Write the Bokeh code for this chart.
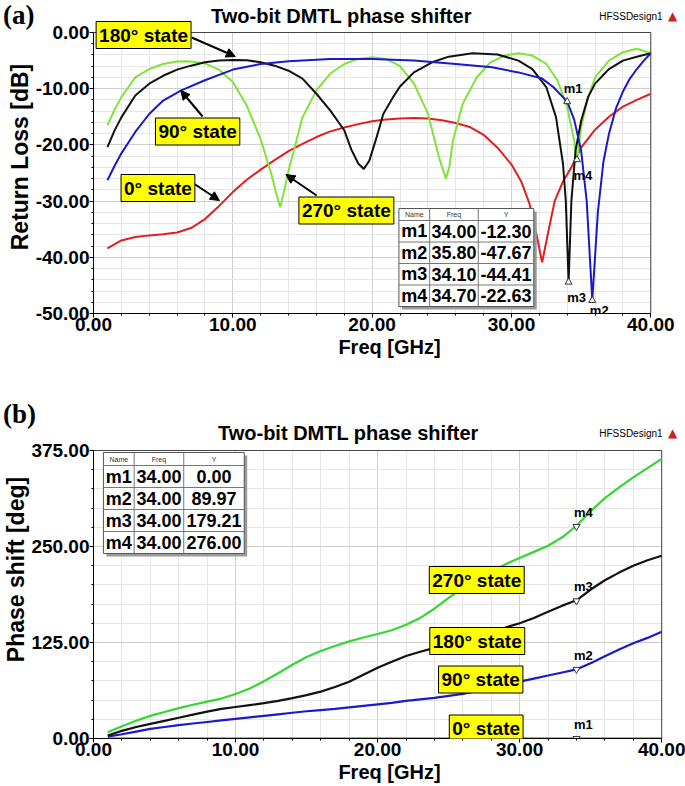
from math import pi
from bokeh.plotting import figure
from bokeh.layouts import column
from bokeh.models import (Label, Arrow, NormalHead, SingleIntervalTicker,
                          PrintfTickFormatter, Title, Div, Grid)
from bokeh.core.properties import value
from bokeh.embed import file_html
from bokeh.resources import INLINE

SANS = "Liberation Sans"
SERIF = "Liberation Serif"

# ---------------- (a) Return loss [dB] ----------------
rl_freq_0 = [1, 2, 3, 4, 5, 6, 7, 8, 9, 10, 11, 12, 13, 14, 15, 16, 17, 18, 19, 20,
             21, 22, 23, 24, 25, 26, 27, 28, 29, 30, 30.7, 31.3, 31.8, 32.2, 32.6, 33.1,
             33.7, 34.3, 35, 36, 37, 38, 39, 40]
rl_0 = [-38.4, -37.0, -36.4, -36.1, -35.9, -35.6, -34.8, -33.2, -30.9, -28.4,
        -26.2, -24.4, -22.7, -21.1, -19.8, -18.6, -17.6, -16.9, -16.3, -15.8,
        -15.5, -15.3, -15.2, -15.3, -15.6, -16.1, -16.8, -18.2, -20.5, -23.5,
        -26.5, -30.5, -36.0, -40.9, -36.0, -30.0, -26.5, -24.0, -20.5, -17.3,
        -15.0, -13.2, -12.0, -10.9]

rl_freq_90 = [1, 1.5, 2, 3, 4, 5, 6.3, 8, 10, 12, 14, 17, 20, 23, 26, 28.6, 30.5, 32.2,
              33, 34, 34.5, 35, 35.4, 35.8, 36.2, 36.6, 37, 37.5, 38, 38.5, 39, 39.5, 40]
rl_90 = [-26.3, -23.8, -21.5, -17.7, -14.5, -12.1, -10.3, -8.5, -6.6, -5.6,
         -5.1, -4.7, -4.7, -5.0, -5.6, -6.2, -7.1, -8.2, -9.7, -12.3,
         -15.5, -21.0, -30.0, -47.67, -32.0, -23.0, -18.0, -13.5, -10.5, -8.2,
         -6.5, -5.0, -3.7]

rl_freq_180 = [1, 1.5, 2, 3, 4, 5, 6, 7, 8, 9, 10, 11, 12, 13, 14, 15, 16, 17, 18, 18.5,
               19, 19.4, 19.8, 20.3, 20.8, 21.5, 22, 23, 24.3, 25.5, 27.2, 29, 30.5, 31.5,
               32.5, 33.2, 33.7, 33.9, 34.1, 34.3, 34.6, 35, 35.5, 36, 37, 38, 39, 40]
rl_180 = [-20.4, -17.5, -15.1, -11.2, -9.1, -7.7, -6.6, -5.9, -5.3, -5.0,
          -4.9, -4.95, -5.3, -5.9, -6.8, -8.2, -10.9, -13.9, -17.4, -20.8,
          -23.3, -24.3, -22.8, -18.8, -14.5, -11.5, -9.6, -7.1, -5.3, -4.3,
          -3.7, -3.9, -5.0, -6.5, -9.7, -15.1, -23.4, -30.0, -44.41, -30.0,
          -21.0, -15.7, -11.5, -9.1, -6.5, -5.0, -4.3, -3.7]

rl_freq_270 = [1, 1.5, 2, 3, 4, 5, 6, 6.5, 7, 8, 9, 10, 11, 12, 12.8, 13.1, 13.4, 13.7, 14, 15,
               16, 17, 18, 19, 20, 21, 22, 23, 24, 24.8, 25.05, 25.3, 25.55, 25.8, 26.5, 27.5,
               28.5, 29.5, 30.5, 31.5, 32.5, 33.3, 34, 34.5, 34.7, 35, 35.5, 36, 37, 38, 39, 40]
rl_270 = [-16.5, -13.8, -11.5, -8.0, -6.5, -5.6, -5.15, -5.1, -5.15, -5.5,
          -6.6, -8.8, -13.0, -19.0, -25.5, -28.5, -31.1, -28.0, -24.6, -15.1,
          -10.3, -7.3, -5.6, -4.7, -4.4, -4.7, -6.0, -9.1, -14.4, -22.2,
          -24.2, -26.0, -23.8, -19.2, -12.7, -8.0, -5.3, -4.1, -3.7, -4.1,
          -5.6, -8.5, -13.3, -19.2, -23.0, -16.8, -11.5, -8.0, -5.0, -3.5,
          -2.9, -3.7]

mk_a_names = ["m1", "m2", "m3", "m4"]
mk_a_freq = [34.00, 35.80, 34.10, 34.70]
mk_a_val = [-12.30, -47.67, -44.41, -22.63]

# ---------------- (b) Phase shift [deg] ----------------
ps_freq = [1, 2, 3, 4, 5, 6, 7, 8, 9, 10, 11, 12, 13, 14, 15, 16, 17, 18, 19, 20,
           21, 22, 23, 24, 25, 26, 27, 28, 29, 30, 31, 32, 33, 34, 35, 36, 37, 38, 39, 40]
ps_270 = [8, 16, 23, 29.5, 34.5, 39.5, 44, 48, 52, 58,
          65, 74.5, 85, 96, 106, 114, 120.5, 126.5, 131.5, 136,
          141, 148, 157, 169, 183, 196, 207, 217, 227, 235,
          243, 251, 262, 277, 296, 313, 327, 340, 352, 364]
ps_180 = [4, 10, 15, 19, 23, 27, 31, 35, 38.5, 41,
          43.5, 46, 49, 52.5, 56.5, 61, 67, 74, 83, 92,
          100, 107.5, 113, 118, 123, 128, 134, 139.5, 144.5, 150,
          157, 165, 173, 180, 194, 206, 216, 225, 232, 238]
ps_90 = [2.5, 5.5, 9, 12.5, 15, 17.5, 19.5, 21.5, 23.5, 25.5,
         27.5, 29.5, 31.5, 33.5, 35.5, 37, 38.5, 40.5, 42.5, 44.5,
         46.5, 49, 51, 53, 55.5, 58, 62, 66, 70, 74,
         78, 82, 86, 90, 98, 107, 116, 124, 131, 139]
ps_freq_0 = [1, 40]
ps_0 = [0.0, 0.0]

mk_b_names = ["m1", "m2", "m3", "m4"]
mk_b_freq = [34.00, 34.00, 34.00, 34.00]
mk_b_val = [0.00, 89.97, 179.21, 276.00]

table_header = ["Name", "Freq", "Y"]
TITLE = "Two-bit DMTL phase shifter"


class Frame:
    """Maps page pixels to data coordinates for a figure frame."""
    def __init__(s, left, top, w, h, xr, yr):
        s.left, s.top, s.w, s.h, s.xr, s.yr = left, top, w, h, xr, yr

    def X(s, px):
        return s.xr[0] + (px - s.left) / s.w * (s.xr[1] - s.xr[0])

    def Y(s, py):
        return s.yr[1] - (py - s.top) / s.h * (s.yr[1] - s.yr[0])

    def px(s, x):
        return s.left + (x - s.xr[0]) / (s.xr[1] - s.xr[0]) * s.w

    def py(s, y):
        return s.top + (s.yr[1] - y) / (s.yr[1] - s.yr[0]) * s.h


W = 685
H1, H2 = 400, 386
# plot box (a): x 88..650 px for 0..40 GHz, y 32..313 px for 0..-50 dB
FA = Frame(88, 0, 597, 313, (0, 597 / 14.05), (-50, 32 / 5.62))
# plot box (b): x 88..661 px for 0..40 GHz, y 450..738 px for 375..0 deg
FB = Frame(88, 400, 597, 338, (0, 597 / 14.325), (0, 375 + 50 / 0.768))


def make_fig(F, height, page_top, yint, ybounds, ylab, ylab_off, xlab_off):
    p = figure(width=W, height=height, x_range=F.xr, y_range=F.yr,
               output_backend="svg", toolbar_location=None,
               min_border_left=F.left, min_border_top=F.top - page_top,
               min_border_right=W - F.left - F.w,
               min_border_bottom=height - (F.top - page_top) - F.h)
    p.xaxis.ticker = SingleIntervalTicker(interval=10, num_minor_ticks=5)
    p.yaxis.ticker = SingleIntervalTicker(interval=yint, num_minor_ticks=5)
    p.xaxis.bounds = (0, 40)
    p.yaxis.bounds = ybounds
    for ax in [p.xaxis, p.yaxis]:
        ax.formatter = PrintfTickFormatter(format="%.2f")
        ax.major_label_text_font = SANS
        ax.major_label_text_font_style = "bold"
        ax.major_label_text_font_size = "19px"
        ax.major_label_text_color = "black"
        ax.axis_line_color = "black"
        ax.major_tick_line_color = "black"
        ax.minor_tick_line_color = "black"
        ax.major_tick_in = 0
        ax.major_tick_out = 4
        ax.minor_tick_in = 0
        ax.minor_tick_out = 2
        ax.major_label_standoff = 0
    p.grid.grid_line_color = "#cfcfcf"
    p.grid.minor_grid_line_color = "#e6e6e6"
    if "cross_bounds" in Grid.properties():
        p.xgrid.cross_bounds = ybounds
        p.ygrid.cross_bounds = (0, 40)
    p.outline_line_color = None
    p.background_fill_color = "white"
    # blank the area of the frame outside the plot box
    p.quad(left=[0, 40], right=[F.xr[1], F.xr[1]], bottom=[ybounds[1], ybounds[0]],
           top=[F.yr[1], ybounds[1]], fill_color="white", line_color=None)
    p.line([0, 40, 40], [ybounds[1], ybounds[1], ybounds[0]], line_color="#444444", line_width=1)
    p.add_layout(Title(text=ylab, align="center", offset=ylab_off, standoff=0,
                       text_font=SANS, text_font_size="23px", text_font_style="bold",
                       text_color="black"), "left")
    p.add_layout(Title(text="Freq [GHz]", align="center", offset=xlab_off, standoff=0,
                       text_font=SANS, text_font_size="20px", text_font_style="bold",
                       text_color="black"), "below")
    return p


def txt(p, F, px, py, text, size, bold=True, font=SANS, color="black",
        align="center", baseline="middle", angle=0):
    p.add_layout(Label(x=F.X(px), y=F.Y(py), text=text, text_font=font,
                       text_font_size=f"{size}px",
                       text_font_style="bold" if bold else "normal",
                       text_color=color, text_align=align, text_baseline=baseline,
                       angle=angle))


def box(p, F, px, py, text):
    common = dict(x=F.X(px), y=F.Y(py), text=text, text_font=SANS,
                  text_font_size="19px", text_font_style="bold",
                  text_align="center", text_baseline="middle", padding=3)
    p.add_layout(Label(x_offset=3, y_offset=-3, text_alpha=0.0,
                       background_fill_color="#8a8a8a", **common))
    p.add_layout(Label(text_color="black", background_fill_color="#ffff00",
                       border_line_color="black", border_line_width=1, **common))


def arrow(p, F, x0, y0, x1, y1):
    p.add_layout(Arrow(end=NormalHead(size=9, fill_color="black", line_color="black"),
                       x_start=F.X(x0), y_start=F.Y(y0), x_end=F.X(x1), y_end=F.Y(y1),
                       line_width=2, line_color="black"))


def table(p, F, xe, ye, names, freqs, vals):
    p.quad(left=F.X(xe[0] + 3), right=F.X(xe[-1] + 3), top=F.Y(ye[0] + 3),
           bottom=F.Y(ye[-1] + 3), fill_color="#9a9a9a", line_color=None)
    p.quad(left=F.X(xe[0]), right=F.X(xe[-1]), top=F.Y(ye[0]), bottom=F.Y(ye[-1]),
           fill_color="white", line_color="#555555", line_width=1)
    p.segment(x0=[F.X(x) for x in xe[1:-1]], x1=[F.X(x) for x in xe[1:-1]],
              y0=[F.Y(ye[0])] * (len(xe) - 2), y1=[F.Y(ye[-1])] * (len(xe) - 2),
              line_color="#777777", line_width=1)
    p.segment(x0=[F.X(xe[0])] * (len(ye) - 2), x1=[F.X(xe[-1])] * (len(ye) - 2),
              y0=[F.Y(y) for y in ye[1:-1]], y1=[F.Y(y) for y in ye[1:-1]],
              line_color="#777777", line_width=1)
    cx = [(xe[i] + xe[i + 1]) / 2 for i in range(3)]
    p.text(x=[F.X(c) for c in cx], y=[F.Y((ye[0] + ye[1]) / 2)] * 3, text=table_header,
           text_font=value(SANS), text_font_size="7px", text_align="center",
           text_baseline="middle", text_color="#333333")
    xs, ys, ts = [], [], []
    for r in range(len(names)):
        yc = (ye[r + 1] + ye[r + 2]) / 2
        for c, t in enumerate([names[r], "%.2f" % freqs[r], "%.2f" % vals[r]]):
            xs.append(F.X(cx[c]))
            ys.append(F.Y(yc))
            ts.append(t)
    p.text(x=xs, y=ys, text=ts, text_font=value(SANS), text_font_size="18px",
           text_font_style="bold", text_align="center", text_baseline="middle",
           text_color="black")


def header(p, F, py, tx):
    txt(p, F, tx, py, TITLE, 20)
    txt(p, F, 598, py + 1, "HFSSDesign1", 10, bold=False, align="left")
    txt(p, F, 672, py, "\u25B2", 12, bold=False, font="DejaVu Sans", color="#cc2222")


# ---------------- figure (a) ----------------
pa = make_fig(FA, H1, 0, 10, (-50, 0), "Return Loss [dB]", -11, -16.5)
pa.line(rl_freq_0, rl_0, line_color="#e02020", line_width=2)
pa.line(rl_freq_270, rl_270, line_color="#7fe33a", line_width=2)
pa.line(rl_freq_180, rl_180, line_color="#111111", line_width=2)
pa.line(rl_freq_90, rl_90, line_color="#1a1ac8", line_width=2)
pa.scatter(mk_a_freq, mk_a_val, marker="triangle", size=7, fill_color="white",
           line_color="#333333", line_width=1)
a_off = [(6, -13), (7, 10), (8, 15), (6, 16)]
for n, f, v, (dx, dy) in zip(mk_a_names, mk_a_freq, mk_a_val, a_off):
    txt(pa, FA, FA.px(f) + dx, FA.py(v) + dy, n, 13)

header(pa, FA, 15, 338)

arrow(pa, FA, 187, 37, 231, 56)
arrow(pa, FA, 198, 116, 176, 90)
arrow(pa, FA, 189, 183, 215, 200)
arrow(pa, FA, 313, 195, 282, 174)
box(pa, FA, 138.5, 34.5, "180° state")
box(pa, FA, 193, 131, "90° state")
box(pa, FA, 153, 187.5, "0° state")
box(pa, FA, 343, 210, "270° state")

table(pa, FA, [396, 427, 476, 532], [208, 220, 241.5, 263, 284.5, 306],
      mk_a_names, mk_a_freq, mk_a_val)

# ---------------- figure (b) ----------------
pb = make_fig(FB, H2, H1, 125, (0, 375), "Phase shift [deg]", -78.5, -11.5)
pb.line(ps_freq_0, ps_0, line_color="#e02020", line_width=2)
pb.line(ps_freq, ps_90, line_color="#1a1ac8", line_width=2.2)
pb.line(ps_freq, ps_180, line_color="#111111", line_width=2.2)
pb.line(ps_freq, ps_270, line_color="#33d633", line_width=2.2)
pb.scatter(mk_b_freq, mk_b_val, marker="inverted_triangle", size=7, fill_color="white",
           line_color="#333333", line_width=1)
for n, f, v in zip(mk_b_names, mk_b_freq, mk_b_val):
    txt(pb, FB, FB.px(f) + 7, FB.py(v) - 14, n, 13)

header(pb, FB, 432, 345)

box(pb, FB, 474.5, 579.5, "270° state")
box(pb, FB, 475, 640.5, "180° state")
box(pb, FB, 478.5, 679, "90° state")
box(pb, FB, 484, 728, "0° state")

table(pb, FB, [98, 129, 179, 240], [452, 465, 487, 509, 531, 553],
      mk_b_names, mk_b_freq, mk_b_val)

# panel letters, laid over the top-left corners of both figures
span = ("position:absolute;left:3px;top:{}px;font-family:'Liberation Serif',serif;"
        "font-weight:bold;font-size:27px;line-height:30px;color:#000;")
letters = Div(text=('<div style="position:relative;width:60px;height:430px;">'
                    '<span style="' + span.format(0) + '">(a)</span>'
                    '<span style="' + span.format(399) + '">(b)</span></div>'),
              width=60, height=430, margin=(-(H1 + H2), 0, 0, 0))

layout = column(pa, pb, letters, spacing=0)
open("out.html", "w").write(file_html(layout, INLINE))
